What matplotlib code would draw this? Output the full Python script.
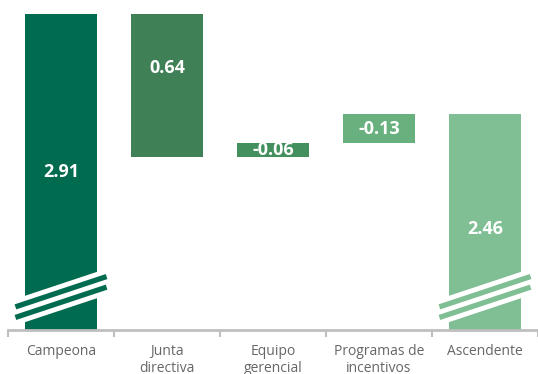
import matplotlib
matplotlib.use('Agg')
import matplotlib.pyplot as plt

# Datos de la cascada
categorias = ['Campeona', 'Junta\ndirectiva', 'Equipo\ngerencial', 'Programas de\nincentivos', 'Ascendente']
valores = [2.91, 0.64, -0.06, -0.13, 2.46]
colores = ['#006B4F', '#408056', '#43905E', '#68B07E', '#80BE94']

plt.rcParams['font.family'] = ['Open Sans', 'DejaVu Sans']

# base y altura de cada barra
inicio = valores[0]
bases, alturas = [], []
nivel = inicio
for i, v in enumerate(valores):
    if i == 0 or i == len(valores) - 1:
        bases.append(0)
        alturas.append(v)
    else:
        nuevo = nivel - v
        bases.append(min(nivel, nuevo))
        alturas.append(abs(v))
        nivel = nuevo

fig = plt.figure(figsize=(5.38, 3.74), dpi=100)
ax = fig.add_axes([8/538, 44/374, 530/538, 330/374])

x = list(range(len(categorias)))
ax.bar(x, alturas, bottom=bases, width=0.67, color=colores, zorder=2)

ymin, ymax = 1.493, 2.973
ax.set_ylim(ymin, ymax)
ax.set_xlim(-0.5, len(categorias) - 0.5)

# etiquetas de valor
for i, v in enumerate(valores):
    if i == 0 or i == len(valores) - 1:
        yt = ymin + (bases[i] + alturas[i] - ymin) * 0.5
        if i == len(valores) - 1:
            yt -= 0.03
    elif i == 1:
        yt = bases[i] + alturas[i] * 0.62
    else:
        yt = bases[i] + alturas[i] / 2
    ax.text(i, yt, f'{v:.2f}', color='white', fontsize=13, fontweight='bold',
            ha='center', va='center', zorder=4)

# marcas de corte del eje
yc = 1.641
dx, dy = 0.43, 0.068
off = 0.0237
for i in (0, len(valores) - 1):
    ax.plot([i - dx, i + dx], [yc - dy, yc + dy], color='white', lw=18,
            solid_capstyle='butt', zorder=3)
    for s in (-1, 1):
        ax.plot([i - dx, i + dx], [yc - dy + s * off, yc + dy + s * off],
                color=colores[i], lw=3.8, solid_capstyle='butt', zorder=3)

# eje x
for sp in ['top', 'right', 'left']:
    ax.spines[sp].set_visible(False)
ax.spines['bottom'].set_color('#BFBFBF')
ax.spines['bottom'].set_linewidth(2)
ax.set_yticks([])
ax.set_xticks([v - 0.5 for v in range(len(categorias) + 1)], minor=False)
ax.set_xticklabels([])
ax.tick_params(axis='x', length=5, width=1.5, color='#BFBFBF')
ax.set_xticks(x, minor=True)
ax.set_xticklabels(categorias, minor=True, fontsize=10, color='#666666', linespacing=1.15)
ax.tick_params(axis='x', which='minor', length=0, pad=10)

fig.savefig('out.png', dpi=100)
